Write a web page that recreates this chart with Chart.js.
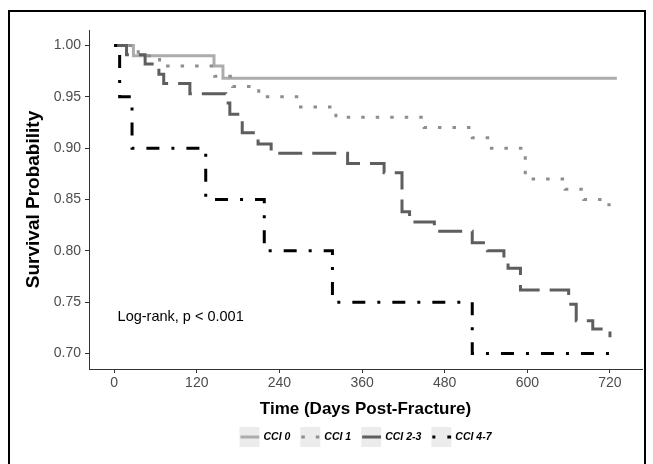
<!DOCTYPE html>
<html>
<head>
<meta charset="utf-8">
<script src="https://cdn.jsdelivr.net/npm/chart.js@4"></script>
<style>
  html, body { margin: 0; padding: 0; background: #fff; }
  #wrap { position: relative; width: 653px; height: 464px; overflow: hidden; }
  #frame { position: absolute; left: 8px; top: 10px; width: 634px; height: 480px; border: 2px solid #000; pointer-events: none; }
  canvas { position: absolute; left: 0; top: 0; }
</style>
</head>
<body>
<div id="wrap">
  <canvas id="myChart" width="653" height="464"></canvas>
  <div id="frame"></div>
</div>
<script>
const groupLabels = ['CCI 0', 'CCI 1', 'CCI 2-3', 'CCI 4-7'];

// Kaplan-Meier steps: day of event and survival after it
const cci0Days = [0, 28, 145, 158, 730];
const cci0Surv = [1.000, 0.990, 0.980, 0.968, 0.968];

const cci1Days = [0, 35, 66, 146, 172, 210, 268, 322, 450, 520, 545, 597, 655, 682, 716, 721];
const cci1Surv = [1.000, 0.990, 0.980, 0.970, 0.960, 0.950, 0.940, 0.930, 0.920, 0.910, 0.900, 0.870, 0.860, 0.850, 0.845, 0.845];

const cci23Days = [0, 18, 45, 65, 72, 110, 162, 168, 186, 209, 228, 339, 392, 418, 429, 465, 520, 542, 566, 572, 590, 660, 671, 695, 720];
const cci23Surv = [1.000, 0.991, 0.982, 0.972, 0.963, 0.953, 0.944, 0.933, 0.915, 0.904, 0.895, 0.885, 0.876, 0.838, 0.828, 0.819, 0.808, 0.800, 0.789, 0.783, 0.762, 0.748, 0.732, 0.724, 0.716];

const cci47Days = [0, 8, 26, 133, 218, 317, 520, 720];
const cci47Surv = [1.00, 0.95, 0.90, 0.85, 0.80, 0.75, 0.70, 0.70];

const xTickValues = [0, 120, 240, 360, 480, 600, 720];
const yTickValues = [0.70, 0.75, 0.80, 0.85, 0.90, 0.95, 1.00];

const logRankText = 'Log-rank, p < 0.001';

const FONT = '"Liberation Sans", Arial, Helvetica, sans-serif';

function toPoints(days, surv) {
    return days.map((d, i) => ({ x: d, y: surv[i] }));
}

function makeSet(label, days, surv, color, dash, order) {
    return {
        label: label,
        data: toPoints(days, surv),
        borderColor: color,
        borderWidth: 3,
        borderDash: dash,
        borderCapStyle: 'butt',
        stepped: 'before',
        pointRadius: 0,
        fill: false,
        order: order
    };
}

const annotationPlugin = {
    id: 'logRank',
    afterDatasetsDraw(chart) {
        const ctx = chart.ctx;
        const x = chart.scales.x.getPixelForValue(5);
        const y = chart.scales.y.getPixelForValue(0.736);
        ctx.save();
        ctx.font = '14.5px ' + FONT;
        ctx.fillStyle = '#000';
        ctx.textAlign = 'left';
        ctx.textBaseline = 'middle';
        ctx.fillText(logRankText, x, y);
        ctx.restore();
    }
};

const legendPlugin = {
    id: 'kmLegend',
    afterDraw(chart) {
        const ctx = chart.ctx;
        const area = chart.chartArea;
        const keyW = 20, keyH = 20, textGap = 4, itemGap = 10;
        const top = 427;
        ctx.save();
        ctx.font = 'italic bold 10.5px ' + FONT;
        const items = chart.data.datasets.map(ds => ({ ds: ds, w: ctx.measureText(ds.label).width }));
        let total = 0;
        items.forEach(it => { total += keyW + textGap + it.w; });
        total += itemGap * (items.length - 1);
        let x = (area.left + area.right) / 2 - total / 2;
        items.forEach(it => {
            ctx.fillStyle = '#ececec';
            ctx.fillRect(x, top, keyW, keyH);
            ctx.save();
            ctx.beginPath();
            ctx.rect(x, top, keyW, keyH);
            ctx.clip();
            ctx.strokeStyle = it.ds.borderColor;
            ctx.lineWidth = it.ds.borderWidth;
            ctx.lineCap = 'butt';
            ctx.setLineDash(it.ds.borderDash);
            ctx.beginPath();
            ctx.moveTo(x + 1, top + keyH / 2);
            ctx.lineTo(x + keyW, top + keyH / 2);
            ctx.stroke();
            ctx.restore();
            ctx.fillStyle = '#000';
            ctx.textAlign = 'left';
            ctx.textBaseline = 'middle';
            ctx.fillText(it.ds.label, x + keyW + textGap, top + keyH / 2);
            x += keyW + textGap + it.w + itemGap;
        });
        ctx.restore();
    }
};

const ctx = document.getElementById('myChart').getContext('2d');
const myChart = new Chart(ctx, {
    type: 'line',
    data: {
        datasets: [
            makeSet(groupLabels[0], cci0Days, cci0Surv, '#acacac', [], 3),
            makeSet(groupLabels[1], cci1Days, cci1Surv, '#8e8e8e', [3.5, 11], 2),
            makeSet(groupLabels[2], cci23Days, cci23Surv, '#5e5e5e', [24, 10], 1),
            makeSet(groupLabels[3], cci47Days, cci47Surv, '#000000', [3, 12, 13, 12], 0)
        ]
    },
    options: {
        responsive: false,
        animation: false,
        layout: { padding: { top: 30, right: 11, bottom: 44, left: 0 } },
        plugins: {
            legend: { display: false },
            tooltip: { enabled: false }
        },
        scales: {
            x: {
                type: 'linear',
                min: -36.5,
                max: 766.5,
                afterBuildTicks: (scale) => { scale.ticks = xTickValues.map(v => ({ value: v })); },
                afterFit: (scale) => { scale.height = 51; },
                ticks: {
                    color: '#4d4d4d',
                    font: { family: FONT, size: 14 },
                    padding: 2,
                    maxRotation: 0,
                    autoSkip: false
                },
                grid: { drawOnChartArea: false, drawTicks: true, tickLength: 4, color: '#333' },
                border: { display: true, color: '#333', width: 1 },
                title: {
                    display: true,
                    text: 'Time (Days Post-Fracture)',
                    color: '#000',
                    font: { family: FONT, size: 17, weight: 'bold' },
                    padding: { top: 0, bottom: 0 }
                }
            },
            y: {
                type: 'linear',
                min: 0.685,
                max: 1.015,
                afterBuildTicks: (scale) => { scale.ticks = yTickValues.map(v => ({ value: v })); },
                afterFit: (scale) => { scale.width = 89; },
                ticks: {
                    color: '#4d4d4d',
                    font: { family: FONT, size: 14 },
                    padding: 4,
                    callback: (v) => v.toFixed(2)
                },
                grid: { drawOnChartArea: false, drawTicks: true, tickLength: 4, color: '#333' },
                border: { display: true, color: '#333', width: 1 },
                title: {
                    display: true,
                    text: 'Survival Probability',
                    color: '#000',
                    font: { family: FONT, size: 19, weight: 'bold' },
                    padding: { top: 22, bottom: 0 }
                }
            }
        }
    },
    plugins: [annotationPlugin, legendPlugin]
});
</script>
</body>
</html>
